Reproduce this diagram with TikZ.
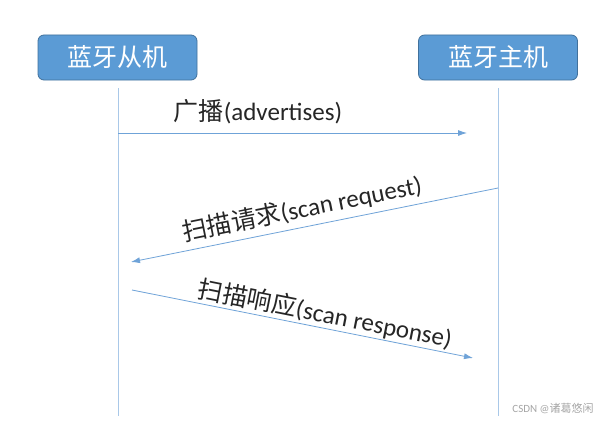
\documentclass[tikz,border=0pt]{standalone}
\usepackage{fontspec}
\setmainfont{Carlito}
\newfontfamily\cjk{Noto Sans CJK SC}
\usetikzlibrary{arrows.meta}
\definecolor{boxfill}{HTML}{5B9BD5}
\definecolor{boxline}{HTML}{41719C}
\definecolor{lifeline}{HTML}{A9C8E8}
\definecolor{msgline}{HTML}{6FA3D8}
\definecolor{txt}{HTML}{262626}
\begin{document}
\begin{tikzpicture}[x=1pt,y=-1pt,
  actor/.style={draw=boxline,fill=boxfill,line width=0.8pt,rounded corners=6pt,
    minimum width=159pt,minimum height=45pt,inner sep=0pt,text=white,
    font=\cjk\fontsize{25}{25}\selectfont},
  life/.style={draw=lifeline,line width=0.9pt},
  msg/.style={draw=msgline,line width=0.8pt,-{Latex[length=9pt,width=6pt]}},
  lbl/.style={text=txt,inner sep=0pt,font=\fontsize{25}{25}\selectfont}]
\useasboundingbox (0,0) rectangle (604,420);
\fill[white] (0,0) rectangle (604,420);
\node[actor] (slave) at (117.5,57.5) {蓝牙从机};
\node[actor] (host) at (498,57.5) {蓝牙主机};
\coordinate (sTop) at (118,88);
\coordinate (sBot) at (118,416);
\coordinate (hTop) at (498,88);
\coordinate (hBot) at (498,416);
\draw[life] (sTop) -- (sBot);
\draw[life] (hTop) -- (hBot);
\coordinate (a1s) at (118,133);
\coordinate (a1e) at (467,133);
\coordinate (a2s) at (498,188);
\coordinate (a2e) at (131,262);
\coordinate (a3s) at (132,290);
\coordinate (a3e) at (473,358);
\draw[msg] (a1s) -- (a1e);
\draw[msg] (a2s) -- (a2e);
\draw[msg] (a3s) -- (a3e);
\node[lbl] (l1) at (258,112) {{\cjk 广播}(advertises)};
\node[lbl,rotate=11.4] (l2) at (302,209) {{\cjk 扫描请求}(scan request)};
\node[lbl,rotate=-11.3] (l3) at (325,314) {{\cjk 扫描响应}(scan response)};
\node[text=gray!70,inner sep=0pt,font=\fontsize{11}{11}\selectfont] (wm) at (553,408) {CSDN @{\cjk 诸葛悠闲}};
\end{tikzpicture}
\end{document}
